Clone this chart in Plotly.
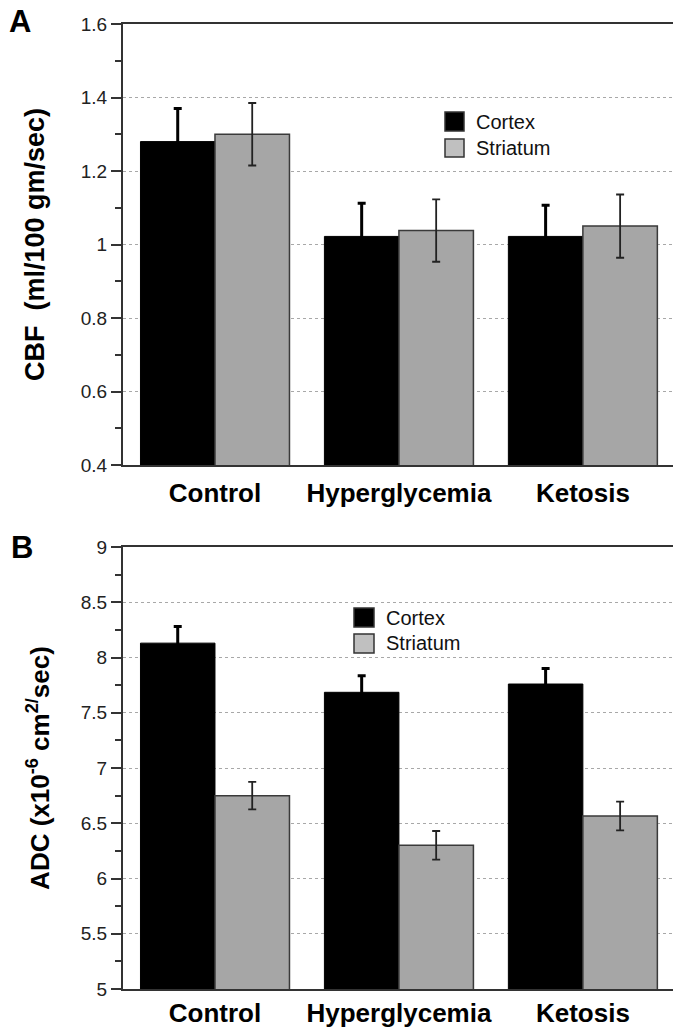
import plotly.graph_objects as go

categories = ["Control", "Hyperglycemia", "Ketosis"]
series_names = ["Cortex", "Striatum"]

cbf_cortex = [1.28, 1.022, 1.022]
cbf_cortex_err = [0.09, 0.09, 0.085]
cbf_striatum = [1.30, 1.038, 1.05]
cbf_striatum_err = [0.085, 0.085, 0.086]

adc_cortex = [8.13, 7.685, 7.76]
adc_cortex_err = [0.15, 0.15, 0.14]
adc_striatum = [6.75, 6.30, 6.565]
adc_striatum_err = [0.125, 0.13, 0.13]

FONT = "Liberation Sans, Arial, sans-serif"
W, H = 673, 1028
ML, MR, MT, MB = 123, 0, 24, 39
PW = W - ML - MR
PH = H - MT - MB

def py(p):
    return (H - MB - p) / PH

def px(p):
    return (p - ML) / PW

cortex_col = "#000000"
striatum_col = "#a6a6a6"
legend_striatum_col = "#c0c0c0"

fig = go.Figure()

def add_panel(xa, ya, cortex, cortex_err, striatum, striatum_err):
    fig.add_trace(go.Bar(
        x=categories, y=cortex, name=series_names[0], xaxis=xa, yaxis=ya,
        marker=dict(color=cortex_col, line=dict(color="#000000", width=1)),
        error_y=dict(type="data", array=cortex_err, color="#000000", thickness=3, width=4),
        showlegend=False,
    ))
    fig.add_trace(go.Bar(
        x=categories, y=striatum, name=series_names[1], xaxis=xa, yaxis=ya,
        marker=dict(color=striatum_col, line=dict(color="#3a3a3a", width=1.5)),
        error_y=dict(type="data", array=striatum_err, color="#222222", thickness=1.8, width=4),
        showlegend=False,
    ))

add_panel("x", "y", cbf_cortex, cbf_cortex_err, cbf_striatum, cbf_striatum_err)
add_panel("x2", "y2", adc_cortex, adc_cortex_err, adc_striatum, adc_striatum_err)

domA = [py(465), 1.0]
domB = [0.0, py(547)]

xcommon = dict(
    range=[-0.5, 2.49], showline=True, linecolor="#333333", linewidth=2, mirror=True,
    ticks="", showgrid=False,
    tickfont=dict(family=FONT, size=26, color="#000000", weight="bold"),
    zeroline=False,
)
ycommon = dict(
    showline=True, linecolor="#333333", linewidth=2, ticks="outside", ticklen=10,
    tickwidth=1.5, tickcolor="#333333", showgrid=True, gridcolor="#a8a8a8",
    griddash="dot", gridwidth=1, zeroline=False,
    tickfont=dict(family=FONT, size=19, color="#222222"),
)

fig.update_layout(
    width=W, height=H,
    margin=dict(l=ML, r=MR, t=MT, b=MB, autoexpand=False),
    paper_bgcolor="white", plot_bgcolor="white",
    barmode="group", bargap=0.19, bargroupgap=0,
    showlegend=False,
    font=dict(family=FONT),
    xaxis=dict(domain=[0, 1], anchor="y", ticklabelstandoff=4, **xcommon),
    xaxis2=dict(domain=[0, 1], anchor="y2", ticklabelstandoff=0, **xcommon),
    yaxis=dict(domain=domA, anchor="x", range=[0.4, 1.6], dtick=0.2, tick0=0.4,
               minor=dict(dtick=0.1, ticks="outside", ticklen=6, tickcolor="#333333", showgrid=False),
               title=dict(text="CBF\u00a0 (ml/100 gm/sec)",
                          font=dict(family=FONT, size=27, color="#000000", weight="bold"), standoff=28),
               **ycommon),
    yaxis2=dict(domain=domB, anchor="x2", range=[5, 9], dtick=0.5, tick0=5,
                minor=dict(dtick=0.25, ticks="outside", ticklen=6, tickcolor="#333333", showgrid=False),
                title=dict(text="ADC (x10<sup>-6</sup> cm<sup>2/</sup>sec)",
                           font=dict(family=FONT, size=26, color="#000000", weight="bold"), standoff=24),
                **ycommon),
)

# panel letters
for letter, (lx, ly) in {"A": (20, 22), "B": (22, 547)}.items():
    fig.add_annotation(text=f"<b>{letter}</b>", xref="paper", yref="paper", x=px(lx), y=py(ly),
                       showarrow=False, xanchor="center", yanchor="middle",
                       font=dict(family=FONT, size=31, color="#000000"))

# legends (drawn as shapes + text)
legends = [
    dict(sq_x=(445, 464), rows=[(112, 131), (139, 157)], tx=474),
    dict(sq_x=(354, 374), rows=[(608, 627), (634, 653)], tx=384),
]
for lg in legends:
    for i, (name, fillc) in enumerate(zip(series_names, [cortex_col, legend_striatum_col])):
        y0p, y1p = lg["rows"][i]
        fig.add_shape(type="rect", xref="paper", yref="paper",
                      x0=px(lg["sq_x"][0]), x1=px(lg["sq_x"][1]), y0=py(y1p), y1=py(y0p),
                      fillcolor=fillc, line=dict(color="#333333", width=1.5))
        fig.add_annotation(text=name, xref="paper", yref="paper", x=px(lg["tx"]), y=py((y0p + y1p) / 2),
                           showarrow=False, xanchor="left", yanchor="middle",
                           font=dict(family=FONT, size=20, color="#111111"))

fig.write_html("out.html", config={"displayModeBar": False},
               post_script="document.body.style.margin='0';document.body.style.padding='0';")
